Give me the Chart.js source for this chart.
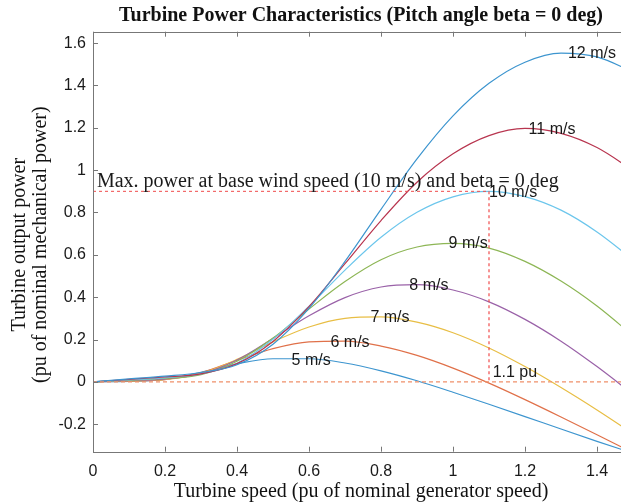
<!DOCTYPE html>
<html>
<head>
<meta charset="utf-8">
<script src="https://cdn.jsdelivr.net/npm/chart.js@4.4.1/dist/chart.umd.min.js"></script>
<style>
html, body { margin: 0; padding: 0; background: #fff; overflow: hidden; }
#wrap { width: 634px; height: 503px; }
</style>
</head>
<body>
<div id="wrap"><canvas id="graph"></canvas></div>
<script>
// turbine speed (pu of nominal generator speed)
var speed = [0, 0.1, 0.2, 0.3, 0.4, 0.5, 0.6, 0.7, 0.8, 0.9, 1.0, 1.1, 1.2, 1.3, 1.4, 1.5];

// turbine output power (pu) per wind speed
var p5  = [0, 0.002, 0.011, 0.045, 0.085, 0.109, 0.109, 0.089, 0.052, 0.005, -0.049, -0.106, -0.164, -0.223, -0.281, -0.337];
var p6  = [0, 0.003, 0.010, 0.043, 0.102, 0.157, 0.189, 0.192, 0.169, 0.125, 0.065, -0.006, -0.084, -0.166, -0.250, -0.335];
var p7  = [0, 0.005, 0.011, 0.040, 0.106, 0.189, 0.259, 0.300, 0.307, 0.282, 0.232, 0.160, 0.072, -0.027, -0.133, -0.245];
var p8  = [0, 0.006, 0.013, 0.037, 0.103, 0.205, 0.312, 0.398, 0.448, 0.459, 0.434, 0.378, 0.295, 0.192, 0.072, -0.059];
var p9  = [0, 0.008, 0.016, 0.034, 0.097, 0.207, 0.344, 0.474, 0.577, 0.637, 0.654, 0.632, 0.569, 0.476, 0.358, 0.218];
var p10 = [0, 0.009, 0.019, 0.037, 0.088, 0.201, 0.357, 0.528, 0.683, 0.801, 0.874, 0.900, 0.875, 0.811, 0.708, 0.577];
var p11 = [0, 0.012, 0.023, 0.038, 0.086, 0.191, 0.355, 0.558, 0.762, 0.943, 1.077, 1.163, 1.197, 1.174, 1.107, 0.999];
var p12 = [0, 0.014, 0.027, 0.044, 0.081, 0.178, 0.347, 0.569, 0.815, 1.053, 1.256, 1.410, 1.510, 1.553, 1.535, 1.464];

var windNames = ["5 m/s", "6 m/s", "7 m/s", "8 m/s", "9 m/s", "10 m/s", "11 m/s", "12 m/s"];
var powers    = [p5, p6, p7, p8, p9, p10, p11, p12];

// where each curve label sits (speed, power)
var labelSpeed = [0.606, 0.714, 0.825, 0.933, 1.042, 1.167, 1.275, 1.386];
var labelPower = [0.099, 0.184, 0.302, 0.453, 0.652, 0.893, 1.190, 1.549];

// max power point at base wind speed
var maxPower  = 0.9;
var baseSpeed = 1.1;

var xTicks = [0, 0.2, 0.4, 0.6, 0.8, 1, 1.2, 1.4];
var yTicks = [-0.2, 0, 0.2, 0.4, 0.6, 0.8, 1, 1.2, 1.4, 1.6];

var colors = ["#3d95cf", "#e0714a", "#e8be45", "#9a62a8", "#8db655", "#6cc6ec", "#b8354f", "#3d95cf"];

var SERIF = '"Liberation Serif", "Times New Roman", serif';
var SANS  = '"Liberation Sans", Arial, sans-serif';

var datasets = [];
for (let i = 0; i < powers.length; i++) {
    datasets.push({
        label: windNames[i],
        data: speed.map(function (s, j) { return { x: s, y: powers[i][j] }; }),
        borderColor: colors[i],
        borderWidth: 1.2,
        pointRadius: 0,
        cubicInterpolationMode: "monotone",
        order: 20 - i
    });
}
// dashed guide lines
datasets.push({
    label: "max power",
    data: [{ x: 0, y: maxPower }, { x: baseSpeed, y: maxPower }],
    borderColor: "#f04a4a", borderWidth: 1, borderDash: [3, 3], pointRadius: 0, order: 1
});
datasets.push({
    label: "base speed",
    data: [{ x: baseSpeed, y: maxPower }, { x: baseSpeed, y: 0 }],
    borderColor: "#f04a4a", borderWidth: 1.2, borderDash: [3, 3], pointRadius: 0, order: 1
});
datasets.push({
    label: "zero",
    data: [{ x: 0, y: 0 }, { x: 1.5, y: 0 }],
    borderColor: "#f0906a", borderWidth: 1.2, borderDash: [4, 3], pointRadius: 0, order: 1
});

// box, inward ticks and all the texts (MATLAB look)
var matlabLook = {
    id: "matlabLook",
    afterDraw: function (chart) {
        let ctx = chart.ctx;
        let a   = chart.chartArea;
        let xs  = chart.scales.x;
        let ys  = chart.scales.y;

        ctx.save();
        ctx.strokeStyle = "#777";
        ctx.lineWidth = 1;
        ctx.strokeRect(Math.round(a.left) + 0.5, Math.round(a.top) + 0.5,
                       Math.round(a.right - a.left), Math.round(a.bottom - a.top));
        ctx.beginPath();
        xTicks.forEach(function (v) {
            let px = Math.round(xs.getPixelForValue(v)) + 0.5;
            ctx.moveTo(px, a.bottom); ctx.lineTo(px, a.bottom - 5);
            ctx.moveTo(px, a.top);    ctx.lineTo(px, a.top + 5);
        });
        yTicks.forEach(function (v) {
            let py = Math.round(ys.getPixelForValue(v)) + 0.5;
            ctx.moveTo(a.left, py);  ctx.lineTo(a.left + 5, py);
            ctx.moveTo(a.right, py); ctx.lineTo(a.right - 5, py);
        });
        ctx.stroke();

        // curve labels
        ctx.fillStyle = "#1a1a1a";
        ctx.font = "16px " + SANS;
        ctx.textAlign = "center";
        ctx.textBaseline = "middle";
        for (let i = 0; i < windNames.length; i++) {
            ctx.fillText(windNames[i], xs.getPixelForValue(labelSpeed[i]), ys.getPixelForValue(labelPower[i]));
        }
        ctx.fillText("1.1 pu", xs.getPixelForValue(1.172), ys.getPixelForValue(0.043));

        // annotation
        ctx.font = "20px " + SERIF;
        ctx.textAlign = "left";
        ctx.fillText("Max. power at base wind speed (10 m/s) and beta = 0 deg",
                     xs.getPixelForValue(0.011), ys.getPixelForValue(0.946));

        // title and axis titles
        let cx = (a.left + a.right) / 2 - 2;
        ctx.fillStyle = "#111";
        ctx.textAlign = "center";
        ctx.font = "bold 20px " + SERIF;
        ctx.fillText("Turbine Power Characteristics (Pitch angle beta = 0 deg)", cx, 16);
        ctx.font = "20px " + SERIF;
        ctx.fillText("Turbine speed (pu of nominal generator speed)", cx, 492);

        let cy = (a.top + a.bottom) / 2 + 3;
        ctx.translate(20, cy);
        ctx.rotate(-Math.PI / 2);
        ctx.fillText("Turbine output power", 0, 0);
        ctx.fillText("(pu of nominal mechanical power)", 0, 21);
        ctx.restore();
    }
};

window.addEventListener("load", function () {
    let ctx = document.getElementById("graph");
    new Chart(ctx, {
        type: "line",
        data: { datasets: datasets },
        options: {
            responsive: true,
            maintainAspectRatio: false,
            animation: false,
            layout: { padding: { top: 31.7, right: 1, left: 0, bottom: 0 } },
            plugins: { legend: { display: false }, tooltip: { enabled: false }, title: { display: false } },
            scales: {
                x: {
                    type: "linear",
                    min: 0,
                    max: 1.5,
                    grid: { display: false, drawTicks: false },
                    border: { display: false },
                    afterBuildTicks: function (s) { s.ticks = xTicks.map(function (v) { return { value: v }; }); },
                    afterFit: function (s) { s.height = 51.3; },
                    ticks: { font: { family: SANS, size: 16 }, color: "#1a1a1a", padding: 10, maxRotation: 0,
                             callback: function (v) { return String(v); } }
                },
                y: {
                    min: -0.33,
                    max: 1.654,
                    grid: { display: false, drawTicks: false },
                    border: { display: false },
                    afterBuildTicks: function (s) { s.ticks = yTicks.map(function (v) { return { value: v }; }); },
                    afterFit: function (s) { s.width = 93; },
                    ticks: { font: { family: SANS, size: 16 }, color: "#1a1a1a", padding: 7,
                             callback: function (v) { return String(v); } }
                }
            }
        },
        plugins: [matlabLook]
    });
});
</script>
</body>
</html>
